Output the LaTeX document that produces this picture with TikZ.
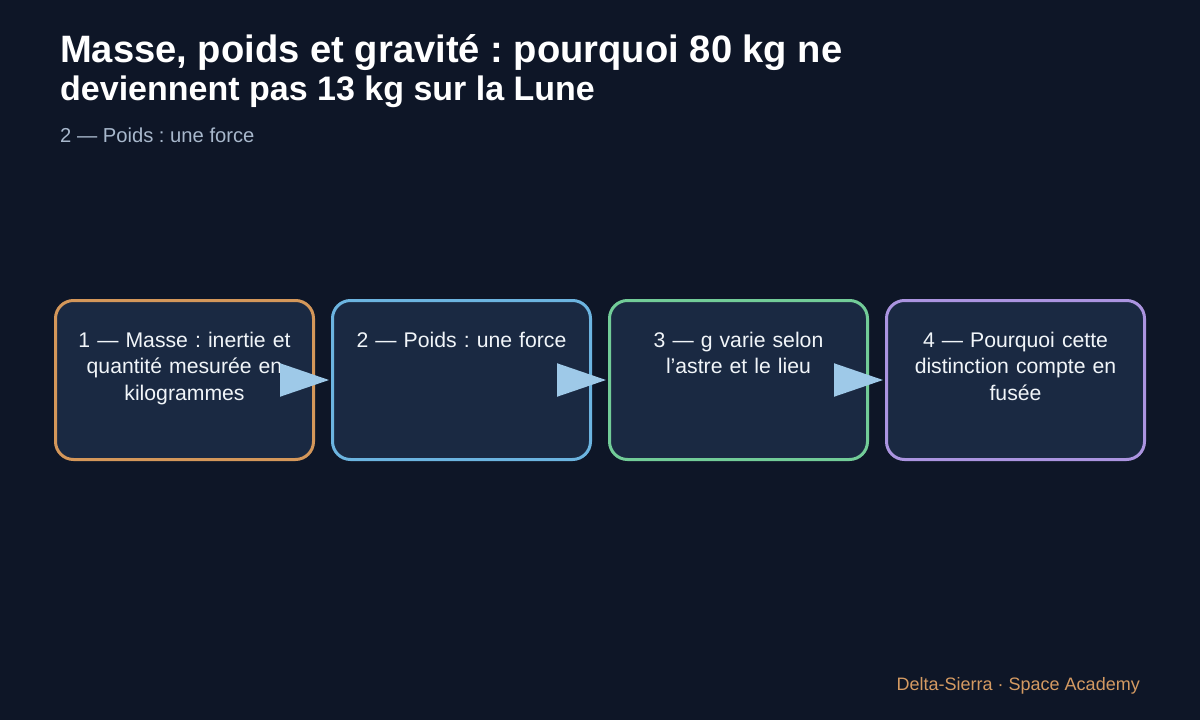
\documentclass[tikz,border=0pt]{standalone}
\usepackage{fontspec}
\setmainfont{Liberation Sans}
\usetikzlibrary{arrows.meta}
\definecolor{bg}{HTML}{0E1627}
\definecolor{boxfill}{HTML}{1A2942}
\definecolor{corange}{HTML}{D4975A}
\definecolor{cblue}{HTML}{6CB4E0}
\definecolor{cgreen}{HTML}{72CC98}
\definecolor{cpurple}{HTML}{AB94E0}
\definecolor{arrowc}{HTML}{9EC9E8}
\definecolor{subc}{HTML}{A8B8CC}
\definecolor{textc}{HTML}{F1F5F9}
\definecolor{footc}{HTML}{D49A62}
\frenchspacing
\begin{document}
\begin{tikzpicture}[x=1pt,y=-1pt,
  stepbox/.style={draw=#1, fill=boxfill, line width=3pt, rounded corners=18pt,
    minimum width=258pt, minimum height=159pt, inner sep=0pt},
  boxtext/.style={anchor=north, text width=240pt, align=center, inner sep=0pt,
    text=textc, font=\fontsize{21.2}{26.7}\selectfont},
  flow/.style={draw=arrowc, line width=2pt, -{Triangle[length=49pt,width=33pt]}, shorten >=2pt},
  titlefont/.style={anchor=base west, inner sep=0pt, text=white, font=\bfseries\fontsize{#1}{#1}\selectfont}]
\fill[bg] (0,0) rectangle (1200,720);
\useasboundingbox (0,0) rectangle (1200,720);

\node[titlefont=38.15] (title1) at (60,62) {Masse, poids et gravité : pourquoi 80 kg ne};
\node[titlefont=34] (title2) at (60,100) {deviennent pas 13 kg sur la Lune};
\node[anchor=base west, inner sep=0pt, text=subc, font=\fontsize{20.2}{24}\selectfont] (sub) at (60,142) {2 — Poids : une force};

\node[stepbox=corange] (b1) at (184.5,380) {};
\node[stepbox=cblue]   (b2) at (461.5,380) {};
\node[stepbox=cgreen]  (b3) at (738.5,380) {};
\node[stepbox=cpurple] (b4) at (1015.5,380) {};

\node[boxtext] (t1) at ([yshift=-32pt]b1.north) {\rule{0pt}{16pt}1 — Masse : inertie et\\quantité mesurée en\\kilogrammes};
\node[boxtext] (t2) at ([yshift=-32pt]b2.north) {\rule{0pt}{16pt}2 — Poids : une force};
\node[boxtext] (t3) at ([yshift=-32pt]b3.north) {\rule{0pt}{16pt}3 — g varie selon\\l’astre et le lieu};
\node[boxtext] (t4) at ([yshift=-32pt]b4.north) {\rule{0pt}{16pt}4 — Pourquoi cette\\distinction compte en\\fusée};

\draw[flow] (b1.east) -- (b2.west);
\draw[flow] (b2.east) -- (b3.west);
\draw[flow] (b3.east) -- (b4.west);

\node[anchor=base east, inner sep=0pt, text=footc, font=\fontsize{18}{22}\selectfont] (foot) at (1140,690) {Delta-Sierra · Space Academy};
\end{tikzpicture}
\end{document}
